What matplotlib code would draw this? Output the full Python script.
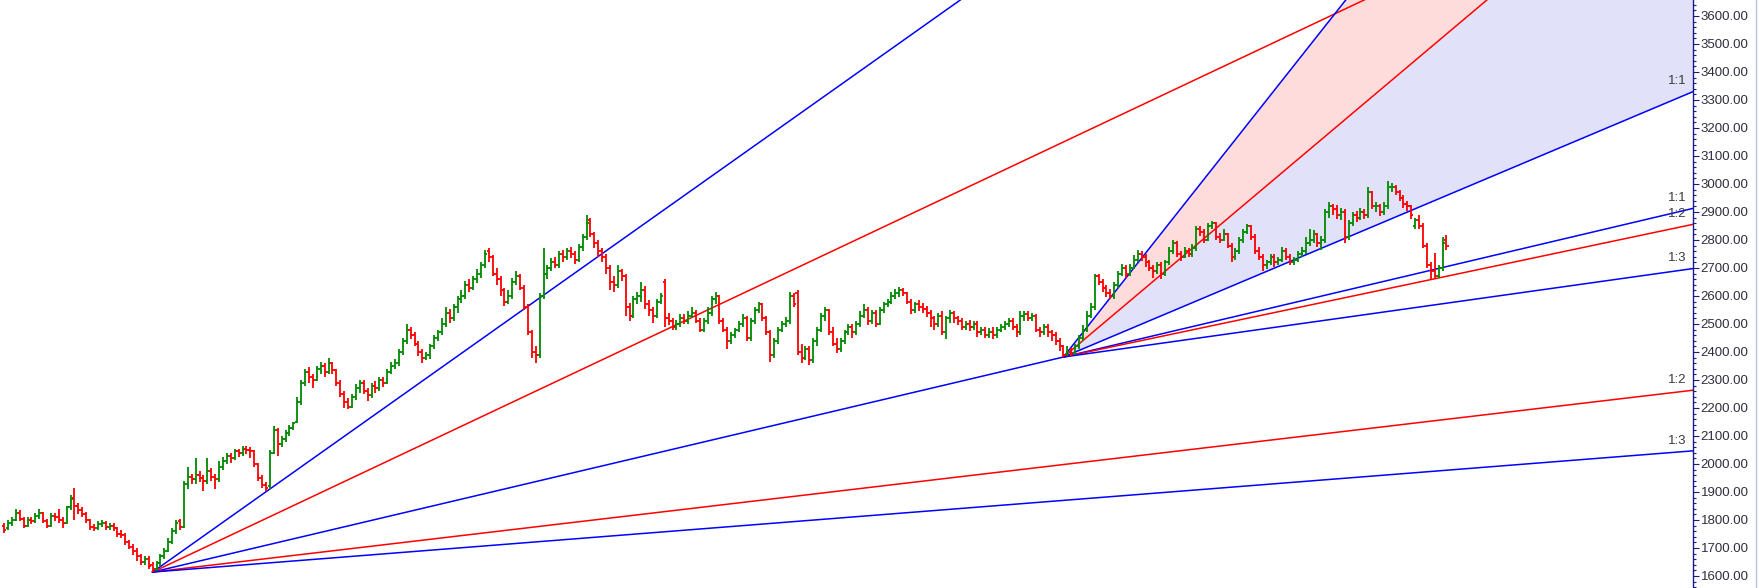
import numpy as np
import matplotlib
matplotlib.use("Agg")
import matplotlib.pyplot as plt
from matplotlib.collections import LineCollection
from matplotlib.ticker import MultipleLocator, FormatStrFormatter
from matplotlib.lines import Line2D

plt.rcParams['font.family'] = ['Liberation Sans', 'DejaVu Sans']

# daily OHLC bars (370 bars)
opens = [
    1780, 1770, 1790, 1800, 1825, 1805, 1780, 1800, 1795, 1815,
    1825, 1795, 1780, 1815, 1810, 1800, 1790, 1845, 1880, 1850,
    1835, 1820, 1800, 1775, 1770, 1785, 1790, 1775, 1780, 1770,
    1750, 1745, 1720, 1705, 1690, 1670, 1650, 1660, 1640,
    1625, 1645, 1670, 1690, 1720, 1760, 1795, 1775,
    1930, 1955, 1945, 1960, 1950, 1940, 1975, 1955, 1945,
    1990, 2010, 2030, 2020, 2045, 2040, 2055, 2050,
    2045, 2000, 1950, 1925,
    1920, 2040, 2120, 2070, 2090, 2110, 2130, 2150,
    2220, 2290, 2330, 2310, 2300, 2340, 2350, 2330,
    2360, 2335, 2290, 2250, 2220, 2205, 2240, 2270,
    2290, 2260, 2245, 2280, 2270, 2300, 2290, 2330,
    2350, 2360, 2400, 2440, 2480, 2460, 2430, 2400, 2380,
    2390, 2420, 2450, 2470, 2500, 2540,
    2520, 2560, 2590, 2600, 2640, 2630, 2660,
    2680, 2710, 2760,
    2740, 2680, 2660, 2620, 2580, 2600, 2650,
    2670, 2630, 2560, 2470, 2400, 2390,
    2600, 2680, 2700, 2720, 2710, 2750, 2740, 2760, 2750, 2730,
    2775, 2810, 2870,
    2820, 2790, 2760, 2740, 2700, 2650, 2640, 2690,
    2670, 2560, 2530, 2590, 2600,
    2620, 2570, 2550, 2530, 2580, 2650,
    2520, 2510, 2490, 2500, 2520, 2510, 2530, 2540, 2510, 2480, 2510,
    2540, 2590,
    2600, 2510, 2480, 2440, 2460, 2480,
    2500, 2520, 2450, 2510, 2550,
    2570, 2520, 2470, 2390, 2440, 2480, 2500,
    2510, 2600, 2610, 2400, 2380, 2410,
    2370, 2440, 2480, 2530,
    2550, 2470, 2430, 2410, 2440, 2470, 2490, 2470,
    2500, 2530, 2550, 2510, 2540, 2500, 2550, 2570,
    2580, 2600, 2610, 2620,
    2610, 2580, 2550, 2570, 2560, 2555, 2540, 2520, 2500,
    2530, 2470, 2520, 2540,
    2520, 2510, 2490, 2500, 2490, 2500, 2470, 2480, 2460,
    2470, 2460, 2480,
    2490, 2500, 2510, 2490, 2470, 2530, 2535, 2520,
    2530, 2480, 2470, 2490, 2470, 2460, 2440,
    2420, 2390, 2400, 2395,
    2420, 2450, 2480, 2530, 2560,
    2670, 2650, 2630, 2610,
    2600, 2640, 2680, 2700, 2680, 2700, 2730,
    2750, 2740, 2720, 2700, 2690, 2710,
    2680, 2720, 2760, 2790, 2750,
    2740, 2760, 2750, 2770, 2840,
    2830, 2800, 2850, 2860, 2810, 2800,
    2820, 2780, 2740,
    2760, 2800, 2830, 2850, 2810, 2760,
    2740, 2710, 2720, 2740, 2720, 2730, 2760,
    2740, 2720, 2730, 2750,
    2760, 2790, 2800, 2820, 2790,
    2800, 2900, 2920, 2910, 2890, 2900,
    2810, 2860, 2890, 2880, 2900,
    2890, 2970, 2920, 2920, 2900,
    2920, 2990,
    2990, 2970, 2950, 2930, 2920, 2850,
    2870, 2850, 2780, 2710, 2690,
    2670, 2700, 2800,
]
highs = [
    1790, 1800, 1810, 1840, 1835, 1810, 1810, 1810, 1825, 1840,
    1830, 1805, 1825, 1825, 1840, 1810, 1850, 1890, 1915, 1860,
    1845, 1830, 1805, 1785, 1795, 1800, 1795, 1790, 1790, 1775,
    1765, 1755, 1730, 1715, 1700, 1680, 1670, 1670, 1650,
    1655, 1680, 1700, 1735, 1770, 1800, 1805, 1940,
    1990, 1965, 2020, 1975, 1960, 2020, 1985, 1965, 2010,
    2025, 2040, 2040, 2055, 2055, 2065, 2065, 2060,
    2050, 2005, 1960, 1935,
    2050, 2135, 2130, 2100, 2120, 2140, 2150, 2240,
    2300, 2340, 2345, 2320, 2350, 2365, 2360, 2380,
    2365, 2340, 2300, 2260, 2235, 2250, 2285, 2300,
    2300, 2270, 2290, 2295, 2310, 2310, 2340, 2365,
    2375, 2410, 2450, 2500, 2490, 2470, 2440, 2410, 2400,
    2430, 2460, 2480, 2520, 2560, 2555,
    2570, 2600, 2620, 2655, 2660, 2670, 2695,
    2720, 2765, 2770,
    2745, 2700, 2670, 2630, 2620, 2665, 2690,
    2680, 2640, 2570, 2480, 2420, 2610,
    2770, 2710, 2735, 2740, 2760, 2765, 2770, 2775, 2760, 2785,
    2820, 2890, 2880,
    2830, 2800, 2770, 2750, 2710, 2670, 2710, 2695,
    2680, 2575, 2600, 2615, 2650,
    2635, 2585, 2560, 2590, 2610, 2660,
    2540, 2520, 2515, 2535, 2535, 2545, 2560, 2550, 2520, 2520, 2560,
    2600, 2615,
    2605, 2520, 2490, 2470, 2485, 2510,
    2535, 2530, 2520, 2560, 2580,
    2575, 2530, 2480, 2450, 2490, 2510, 2525,
    2615, 2610, 2620, 2430, 2420, 2420,
    2450, 2490, 2540, 2560,
    2555, 2490, 2450, 2450, 2480, 2500, 2500, 2510,
    2545, 2570, 2560, 2550, 2550, 2560, 2580, 2590,
    2615, 2625, 2632, 2630,
    2615, 2590, 2580, 2585, 2575, 2565, 2550, 2530, 2540,
    2545, 2530, 2550, 2545,
    2530, 2520, 2510, 2515, 2510, 2510, 2490, 2490, 2485,
    2490, 2490, 2500,
    2510, 2520, 2520, 2500, 2545, 2545, 2545, 2540,
    2535, 2490, 2500, 2500, 2480, 2470, 2450,
    2425, 2420, 2415, 2430,
    2460, 2495, 2545, 2575, 2680,
    2680, 2660, 2640, 2625,
    2650, 2690, 2715, 2710, 2715, 2745, 2765,
    2760, 2750, 2730, 2710, 2720, 2720,
    2730, 2775, 2800, 2795, 2760,
    2775, 2770, 2785, 2850, 2850,
    2840, 2860, 2868, 2865, 2825, 2840,
    2825, 2790, 2770,
    2810, 2840, 2858, 2855, 2820, 2775,
    2750, 2730, 2750, 2750, 2740, 2775, 2770,
    2750, 2740, 2760, 2775,
    2810, 2840, 2835, 2825, 2815,
    2910, 2935, 2930, 2925, 2915, 2910,
    2870, 2900, 2905, 2915, 2910,
    2990, 2975, 2935, 2930, 2935,
    3010, 3005,
    2995, 2980, 2960, 2940, 2925, 2880,
    2890, 2860, 2790, 2720, 2755,
    2710, 2810, 2818,
]
lows = [
    1755, 1765, 1780, 1795, 1795, 1770, 1775, 1785, 1790, 1805,
    1790, 1770, 1775, 1795, 1790, 1770, 1785, 1835, 1800, 1820,
    1810, 1790, 1765, 1760, 1765, 1775, 1765, 1765, 1760, 1740,
    1735, 1710, 1695, 1675, 1655, 1640, 1640, 1625, 1614,
    1618, 1635, 1660, 1685, 1715, 1750, 1765, 1770,
    1910, 1930, 1930, 1935, 1905, 1930, 1940, 1910, 1935,
    1980, 2000, 2005, 2015, 2025, 2030, 2035, 2020,
    1990, 1940, 1915, 1905,
    1910, 2035, 2030, 2060, 2080, 2100, 2120, 2145,
    2210, 2280, 2290, 2270, 2295, 2320, 2310, 2320,
    2320, 2280, 2240, 2200, 2195, 2200, 2230, 2255,
    2250, 2225, 2235, 2255, 2260, 2275, 2285, 2320,
    2340, 2350, 2390, 2430, 2445, 2420, 2385, 2360, 2370,
    2375, 2410, 2440, 2460, 2490, 2505,
    2510, 2540, 2575, 2590, 2615, 2620, 2645,
    2665, 2700, 2720,
    2670, 2640, 2600, 2565, 2570, 2590, 2640,
    2620, 2550, 2460, 2380, 2360, 2380,
    2590, 2660, 2690, 2700, 2700, 2720, 2730, 2735, 2715, 2720,
    2760, 2800, 2810,
    2770, 2740, 2720, 2680, 2620, 2615, 2630, 2655,
    2530, 2510, 2520, 2570, 2580,
    2555, 2530, 2505, 2520, 2570, 2490,
    2495, 2480, 2480, 2490, 2500, 2500, 2520, 2505, 2470, 2470, 2500,
    2530, 2570,
    2500, 2470, 2410, 2430, 2450, 2470,
    2490, 2440, 2440, 2500, 2540,
    2510, 2460, 2365, 2380, 2430, 2470, 2490,
    2500, 2560, 2390, 2360, 2370, 2355,
    2360, 2420, 2470, 2510,
    2460, 2420, 2395, 2400, 2430, 2460, 2450, 2460,
    2490, 2520, 2495, 2500, 2490, 2495, 2540, 2560,
    2570, 2590, 2595, 2600,
    2570, 2535, 2540, 2545, 2540, 2525, 2490, 2480, 2490,
    2460, 2445, 2505, 2505,
    2495, 2480, 2480, 2475, 2480, 2455, 2460, 2450, 2450,
    2445, 2450, 2470,
    2480, 2490, 2480, 2455, 2460, 2510, 2510, 2510,
    2470, 2455, 2460, 2455, 2440, 2425, 2405,
    2382, 2385, 2385, 2390,
    2410, 2440, 2470, 2520, 2550,
    2640, 2615, 2595, 2590,
    2590, 2630, 2670, 2665, 2670, 2695, 2720,
    2725, 2705, 2690, 2665, 2680, 2660,
    2670, 2710, 2750, 2740, 2725,
    2735, 2740, 2740, 2760, 2815,
    2790, 2795, 2840, 2800, 2790, 2795,
    2770, 2720, 2730,
    2750, 2790, 2820, 2800, 2750, 2730,
    2690, 2695, 2710, 2705, 2710, 2720, 2730,
    2710, 2710, 2720, 2740,
    2750, 2780, 2790, 2775, 2765,
    2790, 2880, 2890, 2875, 2870, 2790,
    2800, 2850, 2865, 2870, 2875,
    2880, 2910, 2900, 2885, 2890,
    2910, 2970,
    2960, 2940, 2915, 2905, 2875, 2840,
    2840, 2770, 2700, 2657, 2660,
    2665, 2690, 2765,
]
closes = [
    1765, 1790, 1800, 1825, 1805, 1780, 1800, 1795, 1815, 1825,
    1795, 1780, 1815, 1810, 1800, 1790, 1845, 1875, 1850, 1835,
    1820, 1800, 1775, 1770, 1785, 1790, 1775, 1780, 1770, 1750,
    1745, 1720, 1705, 1690, 1670, 1650, 1660, 1635, 1625,
    1645, 1670, 1690, 1720, 1760, 1790, 1775, 1930,
    1955, 1945, 1960, 1950, 1940, 1975, 1955, 1945, 1990,
    2010, 2030, 2020, 2045, 2040, 2055, 2050, 2045,
    2000, 1950, 1925, 1915,
    2040, 2120, 2070, 2090, 2110, 2130, 2145, 2220,
    2290, 2330, 2310, 2300, 2340, 2350, 2330, 2360,
    2335, 2290, 2250, 2220, 2205, 2240, 2270, 2290,
    2260, 2245, 2280, 2270, 2300, 2290, 2330, 2350,
    2360, 2400, 2440, 2480, 2460, 2430, 2400, 2380, 2390,
    2420, 2450, 2470, 2500, 2540, 2520,
    2560, 2590, 2600, 2640, 2630, 2660, 2680,
    2710, 2750, 2740,
    2680, 2660, 2620, 2580, 2600, 2650, 2670,
    2630, 2560, 2470, 2400, 2390, 2600,
    2680, 2700, 2720, 2710, 2750, 2740, 2760, 2750, 2730, 2775,
    2810, 2860, 2820,
    2790, 2760, 2740, 2700, 2650, 2640, 2690, 2670,
    2560, 2530, 2590, 2600, 2620,
    2570, 2550, 2530, 2580, 2600, 2520,
    2510, 2490, 2500, 2520, 2510, 2530, 2540, 2510, 2480, 2510, 2540,
    2590, 2600,
    2510, 2480, 2440, 2460, 2480, 2500,
    2520, 2450, 2510, 2550, 2570,
    2520, 2470, 2390, 2440, 2480, 2500, 2510,
    2600, 2570, 2400, 2380, 2410, 2370,
    2440, 2480, 2530, 2550,
    2470, 2430, 2410, 2440, 2470, 2490, 2470, 2500,
    2530, 2550, 2510, 2540, 2500, 2550, 2570, 2580,
    2600, 2610, 2620, 2610,
    2580, 2550, 2570, 2560, 2555, 2540, 2520, 2500, 2530,
    2470, 2520, 2540, 2520,
    2510, 2490, 2500, 2490, 2500, 2470, 2480, 2460, 2470,
    2460, 2480, 2490,
    2500, 2510, 2490, 2470, 2530, 2535, 2520, 2530,
    2480, 2470, 2490, 2470, 2460, 2440, 2420,
    2390, 2400, 2395, 2420,
    2450, 2480, 2530, 2560, 2670,
    2650, 2630, 2610, 2600,
    2640, 2680, 2700, 2680, 2700, 2730, 2750,
    2740, 2720, 2700, 2690, 2710, 2680,
    2720, 2760, 2790, 2750, 2740,
    2760, 2750, 2770, 2840, 2830,
    2800, 2850, 2860, 2810, 2800, 2820,
    2780, 2740, 2760,
    2800, 2830, 2850, 2810, 2760, 2740,
    2710, 2720, 2740, 2720, 2730, 2760, 2740,
    2720, 2730, 2750, 2760,
    2790, 2800, 2820, 2790, 2800,
    2900, 2920, 2910, 2890, 2900, 2810,
    2860, 2890, 2880, 2900, 2890,
    2970, 2920, 2920, 2900, 2920,
    2990, 2990,
    2970, 2950, 2930, 2920, 2890, 2870,
    2850, 2780, 2710, 2690, 2670,
    2700, 2790, 2780,
]

# Gann fans: pivot bar, pivot price, 1:1 slope (price per bar)
fan_pivot_bars = [38, 271]
fan_pivot_prices = [1614, 2382]
fan_unit_slopes = [(2382 - 1614) / (271 - 38), 5.885]
fan_ratios = [3, 2, 1, 1 / 2, 1 / 3]
fan_names = ['3:1', '2:1', '1:1', '1:2', '1:3']
fan_colors = ['#0000ff', '#ff0000', '#0000ff', '#ff0000', '#0000ff']

o = np.array(opens, float)
h = np.array(highs, float)
l = np.array(lows, float)
c = np.array(closes, float)
x = np.arange(len(c))

XMIN, XMAX = -1.04, 432.06
YMIN, YMAX = 1557.1, 3657.1

fig = plt.figure(figsize=(17.59, 5.88), dpi=100)
ax = fig.add_axes([0, 0, 1693 / 1759, 1])
ax.set_xlim(XMIN, XMAX)
ax.set_ylim(YMIN, YMAX)

# shaded zones of the second fan
p2, v2, s2 = fan_pivot_bars[1], fan_pivot_prices[1], fan_unit_slopes[1]
xf = np.array([p2, XMAX])
ax.fill_between(xf, v2 + s2 * 3 * (xf - p2), v2 + s2 * 2 * (xf - p2),
                color='#ffdcdc', lw=0, zorder=1)
ax.fill_between(xf, v2 + s2 * 2 * (xf - p2), v2 + s2 * 1 * (xf - p2),
                color='#e1e1fa', lw=0, zorder=1)

# fan lines + labels on the right edge
for pb, pv, s in zip(fan_pivot_bars, fan_pivot_prices, fan_unit_slopes):
    for r, name, col in zip(fan_ratios, fan_names, fan_colors):
        yend = pv + s * r * (XMAX - pb)
        ax.plot([pb, XMAX], [pv, yend], color=col, lw=1.1, zorder=2)
        if yend < YMAX:
            ax.annotate(name, xy=(XMAX, yend), xytext=(-4.5, 3),
                        textcoords='offset points', ha='right', va='bottom',
                        fontsize=9.5, color='#3a3a3a', zorder=4)

# OHLC bars
up = c >= o
for mask, col in [(up, '#008a00'), (~up, '#ff0000')]:
    xi = x[mask]
    segs = []
    for xx, oo, hh, ll, cc in zip(xi, o[mask], h[mask], l[mask], c[mask]):
        segs.append([(xx, ll), (xx, hh)])
        segs.append([(xx - 0.55, oo), (xx, oo)])
        segs.append([(xx, cc), (xx + 0.55, cc)])
    ax.add_collection(LineCollection(segs, colors=col, linewidths=1.3, zorder=3))

# axis styling
for side in ['left', 'top', 'bottom']:
    ax.spines[side].set_visible(False)
ax.spines['right'].set_color('#1a1a8c')
ax.spines['right'].set_linewidth(1.0)
ax.set_xticks([])
ax.yaxis.tick_right()
ax.yaxis.set_major_locator(MultipleLocator(100))
ax.yaxis.set_minor_locator(MultipleLocator(20))
ax.yaxis.set_major_formatter(FormatStrFormatter('%.2f'))
ax.tick_params(axis='y', which='major', length=4, width=0.8, color='#1a1a8c',
               labelsize=9.5, labelcolor='#2e2e3e', pad=1.5)
ax.tick_params(axis='y', which='minor', length=2, width=0.8, color='#1a1a8c')

fig.add_artist(Line2D([0.9985, 0.9985], [0, 1], transform=fig.transFigure,
                      color='#b4c4dc', lw=1))

fig.savefig('out.png', dpi=100)
